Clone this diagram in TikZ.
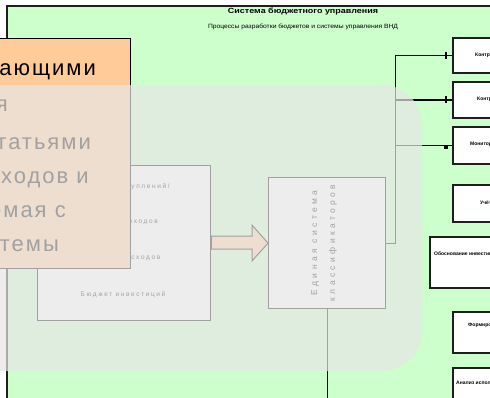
\documentclass[tikz,border=0pt]{standalone}
\usepackage{fontspec}
\usepackage{graphicx}
\setmainfont{Liberation Sans}
\definecolor{bggreen}{RGB}{204,255,204}
\definecolor{orangebox}{RGB}{255,204,153}
\definecolor{veil}{RGB}{230,230,230}
\definecolor{framec}{RGB}{30,30,30}
\begin{document}
\begin{tikzpicture}[x=1pt,y=-1pt,
  greenframe/.style={draw=framec,line width=1.3pt,fill=bggreen},
  rbox/.style={draw=framec,line width=1.7pt,fill=white,anchor=north west,inner sep=0pt},
  wbox/.style={draw=black,line width=1.3pt,fill=white,anchor=north west,inner sep=0pt},
  conn/.style={draw=black,line width=1.3pt},
  rtext/.style={font=\fontsize{5}{6}\selectfont\bfseries,anchor=west,inner sep=0pt},
  ltext/.style={font=\fontsize{6.5}{8}\selectfont\addfontfeature{LetterSpace=25},inner sep=0pt},
  otext/.style={font=\fontsize{22}{24}\selectfont\addfontfeature{LetterSpace=9},anchor=base east,inner sep=0pt},
  veilstyle/.style={fill=veil,fill opacity=0.7,rounded corners=40pt}
]
\useasboundingbox (0,0) rectangle (490,397);
\clip (0,0) rectangle (490,397);
\fill[white] (0,0) rectangle (490,397);
% outer green frame
\draw[greenframe] (7,6) rectangle (520,430);
% titles
\node[inner sep=0pt] (title) at (303,12) {\resizebox{150pt}{5.5pt}{\bfseries Система бюджетного управления}};
\node[inner sep=0pt] (subtitle) at (303,27) {\resizebox{190pt}{4.5pt}{Процессы разработки бюджетов и системы управления ВНД}};
% right boxes
\node[rbox,minimum width=70pt,minimum height=35pt] (r1) at (452,37) {};
\node[rbox,minimum width=70pt,minimum height=36pt] (r2) at (452,81) {};
\node[rbox,minimum width=70pt,minimum height=37pt] (r3) at (452,126) {};
\node[rbox,minimum width=70pt,minimum height=37pt] (r4) at (452,184) {};
\node[rbox,minimum width=93pt,minimum height=51pt] (r5) at (429,236) {};
\node[rbox,minimum width=70pt,minimum height=41pt] (r6) at (452,311) {};
\node[rbox,minimum width=70pt,minimum height=45pt] (r7) at (452,367) {};
\node[rtext] (t1) at (475,55) {Контроль исполнения};
\node[rtext] (t2) at (477,99) {Контроль лимитов};
\node[rtext] (t3) at (470,144) {Мониторинг бюджета};
\node[rtext] (t4) at (480,203) {Учёт};
\node[rtext] (t5) at (434,254) {Обоснование инвестиций};
\node[rtext] (t6) at (468,325) {Формирование};
\node[rtext] (t7) at (456,383) {Анализ исполнения};
% left box
\node[wbox,minimum width=173pt,minimum height=155pt] (lb) at (37,165) {};
\node[ltext] (l1) at (123,187) {Бюджет поступлений/};
\node[ltext] (l2) at (123,222) {Бюджет доходов};
\node[ltext] (l3) at (123,258) {Бюджет расходов};
\node[ltext] (l4) at (123,295) {Бюджет инвестиций};
% middle box
\node[wbox,minimum width=117pt,minimum height=131pt] (mid) at (268,177) {};
\node[rotate=90,align=center,inner sep=0pt,
  font=\fontsize{8.5}{18}\selectfont\addfontfeature{LetterSpace=40}] (midt) at (324,243)
  {Единая система\\классификаторов};
% block arrow
\draw[fill=orangebox,draw=black,line width=1pt]
  (lb.east |- 0,236) -- (252,236) -- (252,225) -- (mid.west) -- (252,261) -- (252,249) -- (lb.east |- 0,249) -- cycle;
% connectors
\coordinate (bot) at (mid.south |- 0,400);
\draw[conn] (mid.east) -- ++(9,0) |- (r1.west);
\draw[conn] (mid.east) ++(9,0) |- (r2.west);
\draw[conn] (mid.east) ++(9,0) |- (r3.west);
\draw[conn] (mid.south) -- (bot);
\foreach \r in {r1,r2} {\draw[conn] ([xshift=-6pt]\r.west) ++(0,-3.5) -- ++(0,7);}
\fill ([xshift=-8pt]r3.west) rectangle ++(4,4);
% orange callout box
\node[draw=black,line width=1.3pt,fill=orangebox,anchor=north west,inner sep=0pt,
  minimum width=150pt,minimum height=230pt] (ob) at (-20,38) {};
\node[otext] (o1) at (96,75) {Связь с обеспечивающими};
\node[otext] (o2) at (8,111) {согласованная};
\node[otext] (o3) at (91,149) {со статьями};
\node[otext] (o4) at (89,183) {доходов и};
\node[otext] (o5) at (66,217) {расходов, поддерживаемая с};
\node[otext] (o6) at (59,251) {помощью системы};
% translucent veil
\fill[veilstyle] (-80,85) rectangle (422,371);
\end{tikzpicture}
\end{document}
